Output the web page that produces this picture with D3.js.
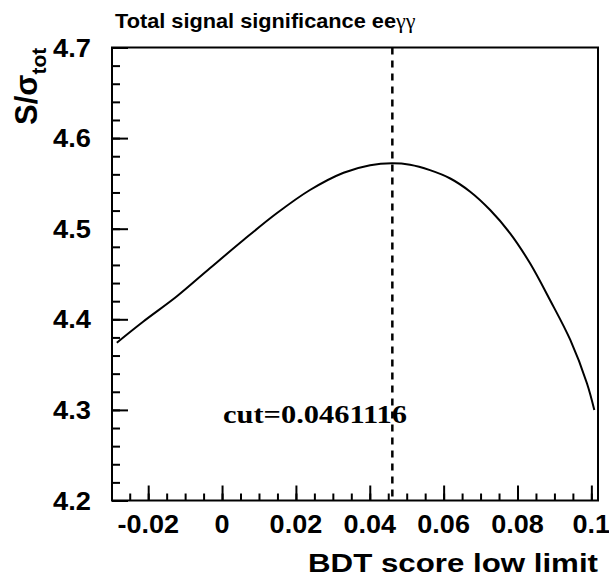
<!DOCTYPE html>
<html>
<head>
<meta charset="utf-8">
<script src="https://cdn.jsdelivr.net/npm/d3@7"></script>
<style>
  html, body { margin: 0; padding: 0; background: #fff; }
  svg { display: block; }
</style>
</head>
<body>
<svg id="chart" width="609" height="576"></svg>
<script>
// ---- data ----
const bdtCut = [-0.0285, -0.0213, -0.0123, -0.0033, 0.0058, 0.0148, 0.0238, 0.0329, 0.0401, 0.0460, 0.0509, 0.0563, 0.0618, 0.0672, 0.0726, 0.0780, 0.0834, 0.0888, 0.0943, 0.0988, 0.1008];
const significance = [4.3742, 4.3976, 4.4251, 4.4563, 4.4875, 4.5170, 4.5427, 4.5618, 4.5701, 4.5722, 4.5706, 4.5646, 4.5554, 4.5408, 4.5206, 4.4949, 4.4618, 4.4213, 4.3772, 4.3294, 4.2999];
const cutValue = 0.0461116;
const xTicks = [-0.02, 0, 0.02, 0.04, 0.06, 0.08, 0.1];
const xTickLabels = ["-0.02", "0", "0.02", "0.04", "0.06", "0.08", "0.1"];
const yTicks = [4.2, 4.3, 4.4, 4.5, 4.6, 4.7];
const yTickLabels = ["4.2", "4.3", "4.4", "4.5", "4.6", "4.7"];
const titleMain = "Total signal significance ee";
const titleGreek = "γγ";
const xTitle = "BDT score low limit";
const cutLabel = "cut=0.0461116";

// ---- layout ----
const L = 112, R = 598, T = 47.5, B = 500.5;
const svg = d3.select("#chart");
const x = d3.scaleLinear().domain([-0.0298, 0.1018]).range([L, R]);
const y = d3.scaleLinear().domain([4.2, 4.7]).range([B, T]);
const sans = "'Liberation Sans', Arial, Helvetica, sans-serif";
const serif = "'Liberation Serif', 'Times New Roman', serif";
const stretch = function (f) {
  return function () {
    const w = this.getComputedTextLength();
    d3.select(this).attr("textLength", w * f).attr("lengthAdjust", "spacingAndGlyphs");
  };
};

// x axis ticks (pointing up, inside)
const xMinor = d3.range(-0.025, 0.1018, 0.005).map(v => Math.round(v * 1000) / 1000);
const xAxisMinor = d3.axisBottom(x).tickValues(xMinor).tickSize(-7).tickFormat("");
const xAxisMajor = d3.axisBottom(x).tickValues(xTicks).tickSize(-15).tickFormat("");
[xAxisMinor, xAxisMajor].forEach(ax => {
  const g = svg.append("g").attr("transform", `translate(0,${B})`).call(ax);
  g.select(".domain").remove();
  g.selectAll("line").attr("stroke", "#000").attr("stroke-width", 2);
});
svg.append("g").selectAll("text").data(xTicks).join("text")
  .attr("x", d => x(d)).attr("y", 533)
  .attr("text-anchor", "middle")
  .attr("font-family", sans).attr("font-weight", "bold").attr("font-size", 25)
  .text((d, i) => xTickLabels[i])
  .each(stretch(1.08));

// y axis ticks (pointing right, inside)
const yMinor = d3.range(4.2, 4.7001, 0.02).map(v => Math.round(v * 100) / 100);
const yAxisMinor = d3.axisLeft(y).tickValues(yMinor).tickSize(-8).tickFormat("");
const yAxisMajor = d3.axisLeft(y).tickValues(yTicks).tickSize(-16).tickFormat("");
[yAxisMinor, yAxisMajor].forEach(ax => {
  const g = svg.append("g").attr("transform", `translate(${L},0)`).call(ax);
  g.select(".domain").remove();
  g.selectAll("line").attr("stroke", "#000").attr("stroke-width", 2);
});
svg.append("g").selectAll("text").data(yTicks).join("text")
  .attr("x", 91).attr("y", d => y(d) + 9)
  .attr("text-anchor", "end")
  .attr("font-family", sans).attr("font-weight", "bold").attr("font-size", 25)
  .text((d, i) => yTickLabels[i])
  .each(stretch(1.09));

// frame
svg.append("rect").attr("x", L).attr("y", T).attr("width", R - L).attr("height", B - T)
  .attr("fill", "none").attr("stroke", "#000").attr("stroke-width", 2);

// curve
const pts = bdtCut.map((d, i) => [d, significance[i]]);
svg.append("path").datum(pts)
  .attr("fill", "none").attr("stroke", "#000").attr("stroke-width", 2)
  .attr("d", d3.line().x(d => x(d[0])).y(d => y(d[1])).curve(d3.curveCatmullRom.alpha(0.5)));

// cut line
svg.append("line")
  .attr("x1", x(cutValue)).attr("x2", x(cutValue))
  .attr("y1", y(4.7)).attr("y2", y(4.2))
  .attr("stroke", "#000").attr("stroke-width", 2.5).attr("stroke-dasharray", "7,6");

// cut label
svg.append("text").attr("x", 223).attr("y", 422.5)
  .attr("font-family", serif).attr("font-weight", "bold").attr("font-size", 25)
  .attr("textLength", 184).attr("lengthAdjust", "spacingAndGlyphs")
  .text(cutLabel);

// title
const t = svg.append("text").attr("x", 115).attr("y", 28)
  .attr("font-family", sans).attr("font-weight", "bold").attr("font-size", 20.5);
t.append("tspan").attr("textLength", 281).attr("lengthAdjust", "spacingAndGlyphs").text(titleMain);
t.append("tspan").attr("font-family", serif).attr("font-weight", "normal").attr("font-size", 22).text(titleGreek);

// x title
svg.append("text").attr("x", 598).attr("y", 571.5)
  .attr("text-anchor", "end")
  .attr("font-family", sans).attr("font-weight", "bold").attr("font-size", 26.5)
  .attr("textLength", 290).attr("lengthAdjust", "spacingAndGlyphs")
  .text(xTitle);

// y title
const yt = svg.append("text").attr("transform", "translate(37,125) rotate(-90)")
  .attr("font-family", sans).attr("font-weight", "bold");
yt.append("tspan").attr("font-size", 31).text("S/σ");
yt.append("tspan").attr("font-size", 21).attr("dy", 9).text("tot");
</script>
</body>
</html>
